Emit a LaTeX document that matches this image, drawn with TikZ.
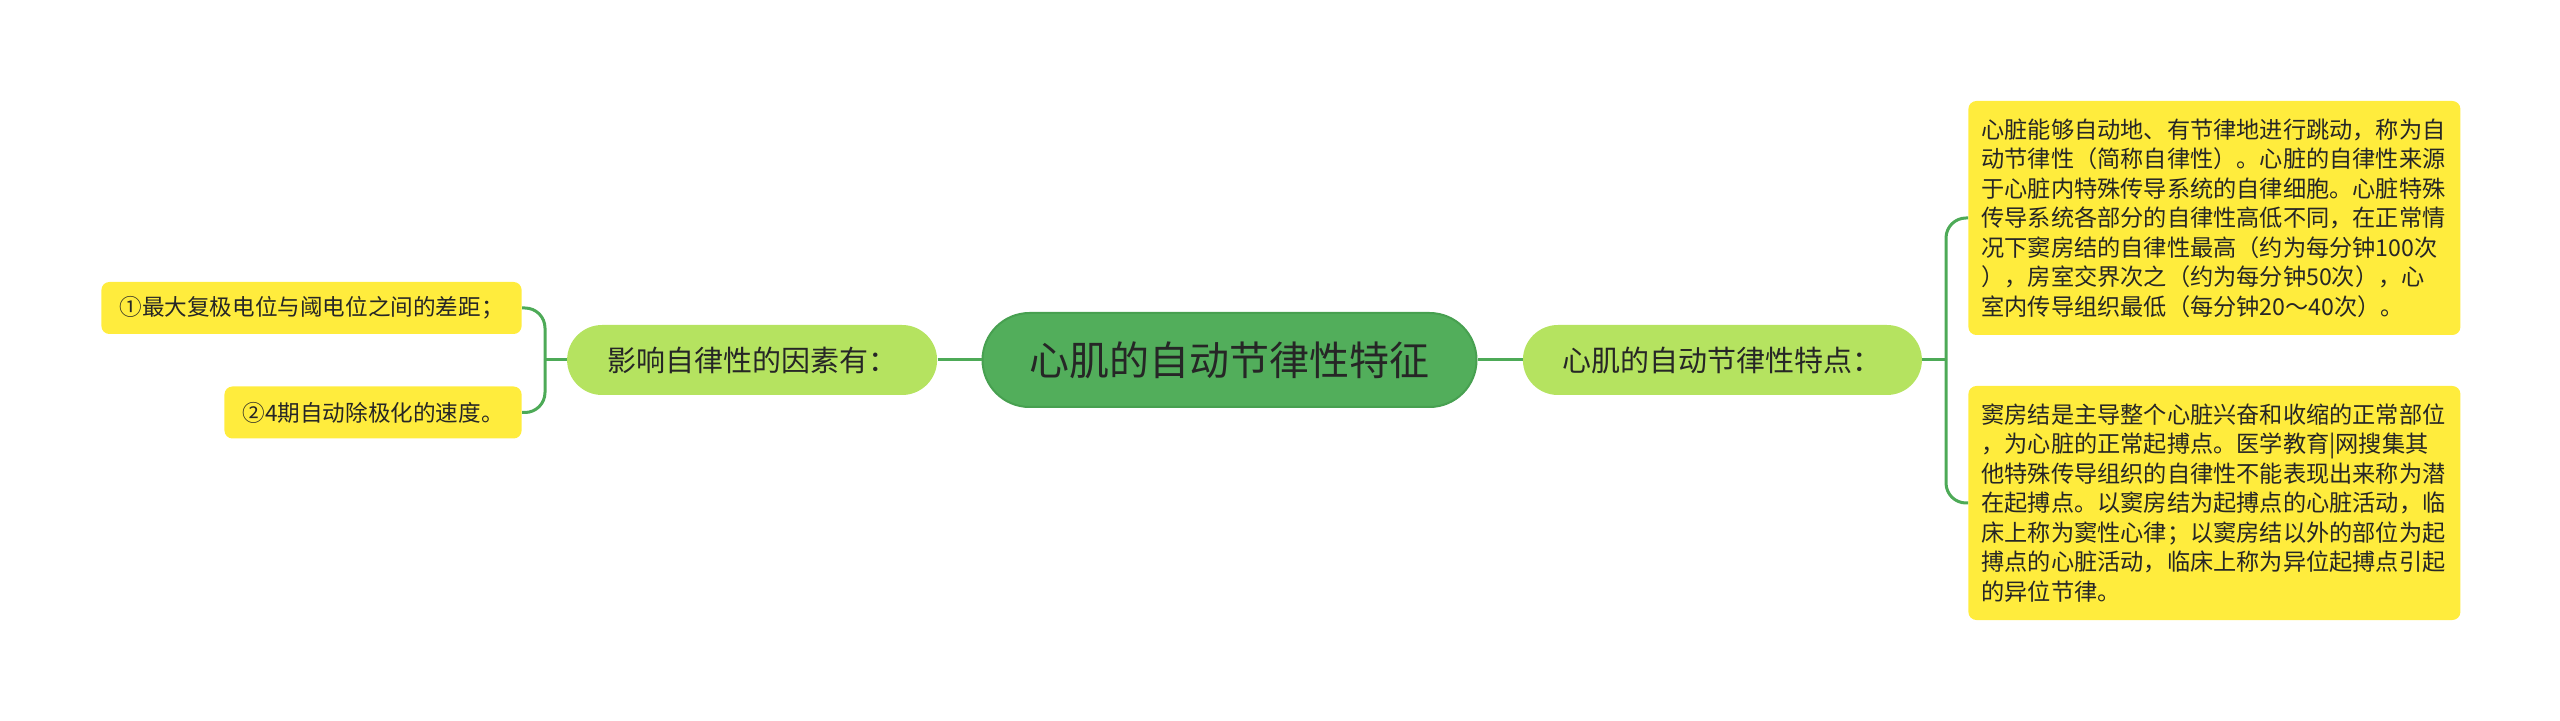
\documentclass[tikz,border=0pt]{standalone}
\usepackage{fontspec}
\newfontfamily\cjk{Noto Sans CJK SC}
\usetikzlibrary{positioning}
\definecolor{rootgreen}{HTML}{52AE5B}
\definecolor{rootedge}{HTML}{47A050}
\definecolor{topicgreen}{HTML}{B5E360}
\definecolor{noteyellow}{HTML}{FFEC3D}
\definecolor{linkgreen}{HTML}{4DAA57}
\definecolor{inkgrey}{HTML}{262626}

\begin{document}
\begin{tikzpicture}[x=0.5pt,y=-0.5pt,
rootnode/.style={rectangle, rounded corners=23.5pt, draw=rootedge, line width=1pt, fill=rootgreen, text=inkgrey, font=\cjk\fontsize{20}{24}\selectfont, minimum height=47pt, inner xsep=23.5pt},
topicnode/.style={rectangle, rounded corners=17.5pt, fill=topicgreen, text=inkgrey, font=\cjk\fontsize{14.5}{17}\selectfont, minimum height=35pt, inner xsep=20pt},
leafnode/.style={rectangle, rounded corners=4pt, fill=noteyellow, text=inkgrey, font=\cjk\fontsize{11.3}{14}\selectfont, minimum height=26pt, inner xsep=9pt},
notebox/.style={rectangle, rounded corners=4pt, fill=noteyellow, text=inkgrey, font=\cjk\fontsize{11.6}{14.75}\selectfont, text width=233pt, align=left, minimum height=117pt, inner xsep=6.5pt},
link/.style={draw=linkgreen, line width=1.5pt},
]
\useasboundingbox (0,0) rectangle (2560,721);
%Nodes
\node[rootnode]      (root)       at (1229.5,360) {心肌的自动节律性特征};
\node[topicnode]     (factors)    [left=22pt of root] {影响自律性的因素有：};
\node[topicnode]     (traits)     [right=22.5pt of root] {心肌的自动节律性特点：};
\node[leafnode, anchor=east] (gap)   at (522,308) {①最大复极电位与阈电位之间的差距；};
\node[leafnode, anchor=east] (speed) at (522,412.5) {②4期自动除极化的速度。};
\node[notebox, anchor=west]  (rhythm) at (1968,218) {心脏能够自动地、有节律地进行跳动，称为自\\
动节律性（简称自律性）。心脏的自律性来源\\
于心脏内特殊传导系统的自律细胞。心脏特殊\\
传导系统各部分的自律性高低不同，在正常情\\
况下窦房结的自律性最高（约为每分钟100次\\
），房室交界次之（约为每分钟50次），心\\
室内传导组织最低（每分钟20～40次）。};
\node[notebox, anchor=west]  (pacer)  at (1968,503) {窦房结是主导整个心脏兴奋和收缩的正常部位\\
，为心脏的正常起搏点。医学教育|网搜集其\\
他特殊传导组织的自律性不能表现出来称为潜\\
在起搏点。以窦房结为起搏点的心脏活动，临\\
床上称为窦性心律；以窦房结以外的部位为起\\
搏点的心脏活动，临床上称为异位起搏点引起\\
的异位节律。};

%Lines
\coordinate (jleft) at (545,360);
\coordinate (jright) at (1946,360);
\draw[link] (factors.east) -- (root.west);
\draw[link] (root.east) -- (traits.west);
\draw[link] (factors.west) -- (jleft);
\draw[link, rounded corners=10pt] (jleft) |- (gap.east);
\draw[link, rounded corners=10pt] (jleft) |- (speed.east);
\draw[link] (traits.east) -- (jright);
\draw[link, rounded corners=10pt] (jright) |- (rhythm.west);
\draw[link, rounded corners=10pt] (jright) |- (pacer.west);
\end{tikzpicture}
\end{document}
